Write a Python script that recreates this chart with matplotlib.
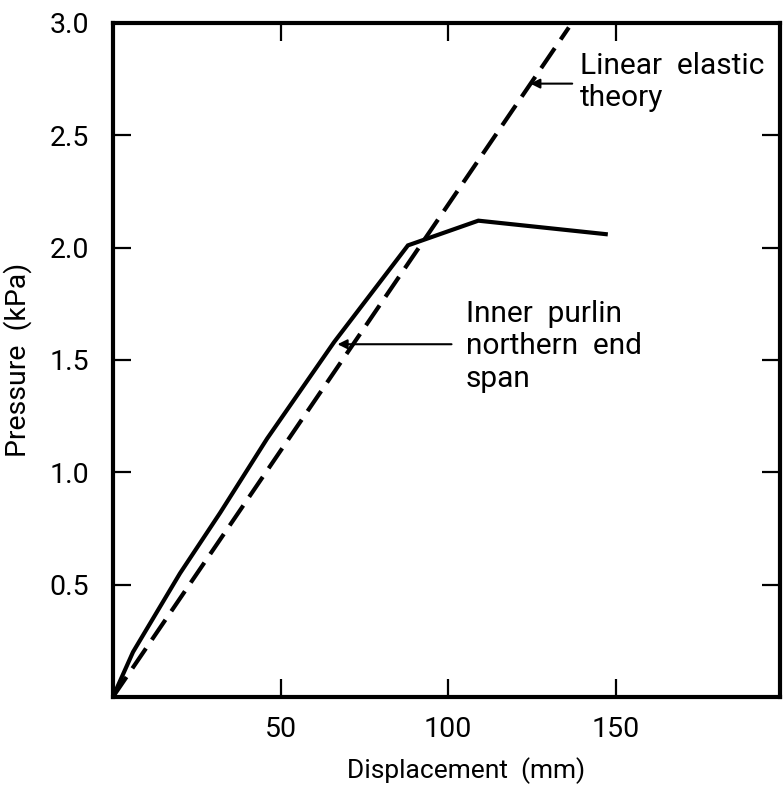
import numpy as np
import matplotlib
matplotlib.use('Agg')
import matplotlib.pyplot as plt

plt.rcParams['font.family'] = ['Roboto', 'DejaVu Sans']

# measured curve (inner purlin, northern end span)
disp_meas = [0, 6, 20, 32, 46, 66, 88, 109, 128, 147]
pres_meas = [0, 0.2, 0.55, 0.82, 1.15, 1.58, 2.01, 2.12, 2.09, 2.06]

# linear elastic theory
disp_theory = [0, 136]
pres_theory = [0, 2.98]

xticks = [50, 100, 150]
yticks = [0.5, 1.0, 1.5, 2.0, 2.5, 3.0]
yticklabels = ['0.5', '1.0', '1.5', '2.0', '2.5', '3.0']

fig = plt.figure(figsize=(7.84, 7.92), dpi=100)
ax = fig.add_axes([0.144, 0.12, 0.851, 0.851])

ax.plot(disp_meas, pres_meas, color='black', lw=3, solid_joinstyle='miter')
ax.plot(disp_theory, pres_theory, color='black', lw=3, dashes=(5.8, 2.5))

ax.set_xlim(0, 199)
ax.set_ylim(0, 3.0)
ax.set_xticks(xticks)
ax.set_yticks(yticks)
ax.set_yticklabels(yticklabels)

for s in ax.spines.values():
    s.set_linewidth(3)
ax.tick_params(direction='in', length=13, width=1.6, top=True, right=True,
               labelsize=20.5)
ax.tick_params(axis='x', pad=14)
ax.tick_params(axis='y', pad=17)

ax.set_xlabel('Displacement  (mm)', fontsize=19)
ax.xaxis.set_label_coords(0.53, -0.09)
ax.set_ylabel('Pressure  (kPa)', fontsize=20.5)
ax.yaxis.set_label_coords(-0.121, 0.5)

arrow = dict(arrowstyle='-|>', color='black', lw=1.5, mutation_scale=14,
             shrinkA=0, shrinkB=0)
ax.annotate('', xy=(124.5, 2.73), xytext=(137, 2.73), arrowprops=arrow)
ax.text(139.2, 2.736, 'Linear  elastic\ntheory', fontsize=21.5,
        ha='left', va='center', linespacing=1.2)

ax.annotate('', xy=(67, 1.57), xytext=(101, 1.57), arrowprops=arrow)
ax.text(105.2, 1.56, 'Inner  purlin\nnorthern  end\nspan', fontsize=21.5,
        ha='left', va='center', linespacing=1.2)

fig.savefig('out.png', dpi=100)
